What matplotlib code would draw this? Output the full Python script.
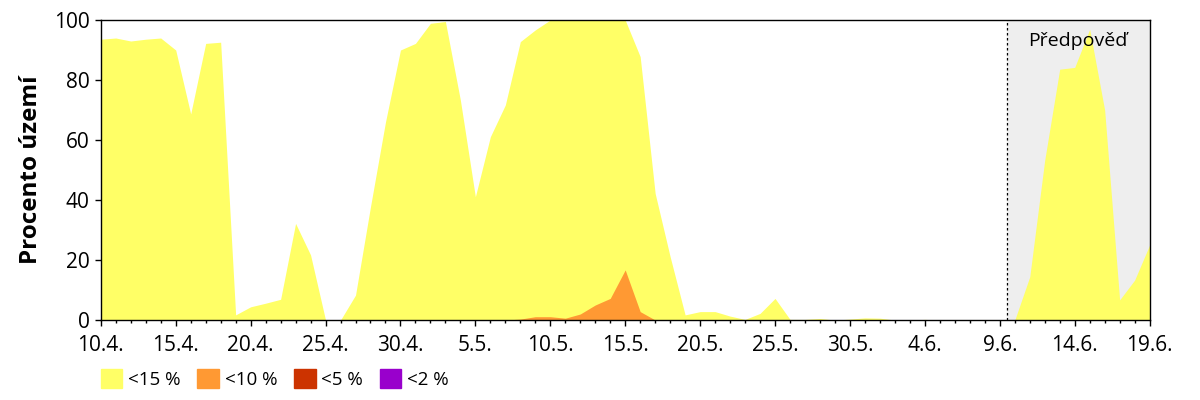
import matplotlib.pyplot as plt
from matplotlib.patches import Patch
from matplotlib.ticker import MultipleLocator
import numpy as np

# den 0 = 10.4., den 70 = 19.6.
tick_labels = ['10.4.', '15.4.', '20.4.', '25.4.', '30.4.', '5.5.', '10.5.',
               '15.5.', '20.5.', '25.5.', '30.5.', '4.6.', '9.6.', '14.6.', '19.6.']

# pozorovani (dny 0-60)
pod15 = [93.6, 94.0, 93.0, 93.6, 94.0, 90.0, 68.7, 92.2, 92.6, 1.7,
         4.4, 5.6, 6.9, 32.2, 21.7, 0.0, 0.0, 8.3, 37.8, 66.0,
         90.0, 92.2, 98.9, 99.5, 73.3, 41.1, 61.1, 71.7, 92.8, 96.7,
         100, 100, 100, 100, 100, 100, 87.8, 42.2, 21.1, 1.7,
         2.8, 2.8, 1.3, 0.2, 2.2, 7.2, 0.2, 0.2, 0.5, 0.0,
         0.3, 0.7, 0.6, 0.0, 0.0, 0.2, 0.0, 0.0, 0.0, 0.0,
         0.0]
pod10 = [0.0] * 27 + [0.0, 0.3, 1.1, 1.1, 0.6, 2.0, 5.0, 7.2, 16.7, 2.8, 0.0] + [0.0] * 23

# predpoved (dny 61-70)
pred15 = [0.0, 14.4, 53.3, 83.6, 84.2, 96.9, 70.0, 6.7, 13.3, 25.0]

dny = np.arange(len(pod15))
dny_pred = np.arange(61, 61 + len(pred15))

plt.rcParams['font.family'] = ['Open Sans', 'DejaVu Sans']

fig = plt.figure(figsize=(12, 4), dpi=100)
ax = fig.add_axes([0.084, 0.2, 0.874, 0.75])

ax.axvspan(60.5, 70, color='#EEEEEE', zorder=0)
ax.axvline(60.5, color='black', linestyle=(0, (2, 2)), linewidth=0.9, zorder=3)

ax.fill_between(dny, 0, pod15, color='#FFFF66', linewidth=0, zorder=1)
ax.fill_between(dny, 0, pod10, color='#FF9933', linewidth=0, zorder=2)
ax.fill_between(dny_pred, 0, pred15, color='#FFFF66', linewidth=0, zorder=1)

ax.text(65.2, 93, 'Předpověď', ha='center', va='center', fontsize=14, zorder=4)

ax.set_xlim(0, 70)
ax.set_ylim(0, 100)
ax.set_xticks(np.arange(0, 71, 5))
ax.set_xticklabels(tick_labels)
ax.xaxis.set_minor_locator(MultipleLocator(1))
ax.set_yticks(np.arange(0, 101, 20))
ax.tick_params(axis='both', which='major', labelsize=15, length=4.5, width=1)
ax.tick_params(axis='y', pad=3.5)
ax.tick_params(axis='x', pad=6)
ax.tick_params(axis='x', which='minor', length=2.5, width=1)
ax.set_ylabel('Procento území', fontsize=17.5, fontweight='bold', labelpad=8)

for s in ax.spines.values():
    s.set_linewidth(1)

handles = [Patch(color='#FFFF66', label='<15 %'),
           Patch(color='#FF9933', label='<10 %'),
           Patch(color='#CC3300', label='<5 %'),
           Patch(color='#9900CC', label='<2 %')]
fig.legend(handles=handles, loc='lower left', bbox_to_anchor=(0.07, -0.015), ncol=4,
           frameon=False, fontsize=13.5, handlelength=1.15, handleheight=1.15,
           handletextpad=0.3, columnspacing=0.9)

fig.savefig('out.png', dpi=100)
